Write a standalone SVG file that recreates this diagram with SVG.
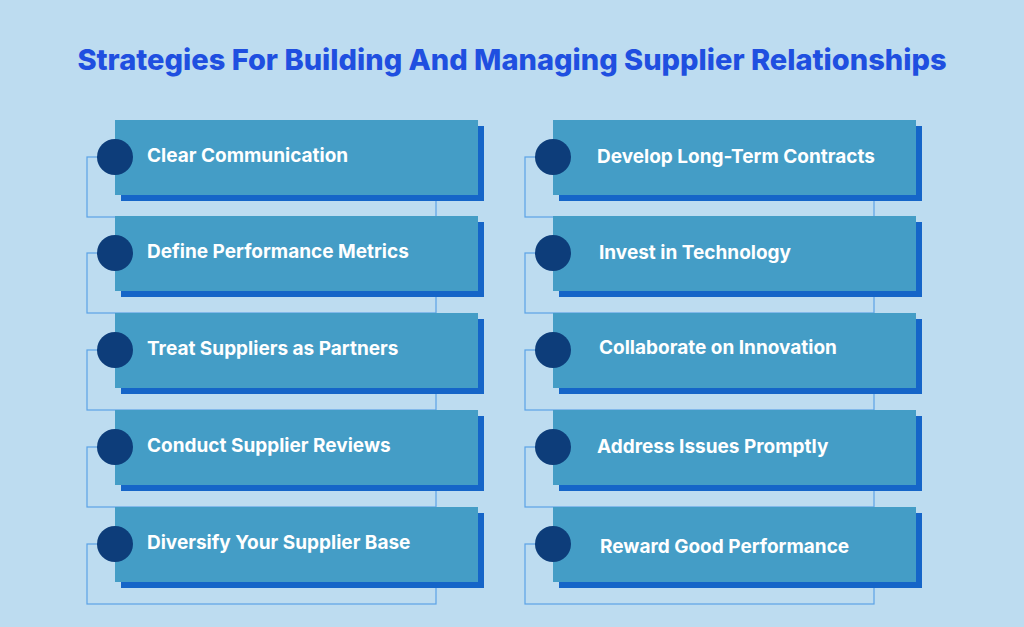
<svg xmlns="http://www.w3.org/2000/svg" width="1024" height="627" viewBox="0 0 1024 627">
<style>
.bg{fill:#bddcf0}
.ol{fill:none;stroke:#5aa2e6;stroke-width:1.2}
.sh{fill:#1565c8}
.bx{fill:#449dc6}
.dot{fill:#0d3d7a}
.t{font-family:Inter,"Liberation Sans",sans-serif;font-weight:700;font-size:19px;fill:#fff}
.title{font-family:Inter,"Liberation Sans",sans-serif;font-weight:800;font-size:29px;fill:#1f4fe0}
</style>
<defs>
<g id="card">
<rect class="ol" x="-28" y="37" width="349" height="60"/>
<rect class="sh" x="6" y="6" width="363" height="75"/>
<rect class="bx" x="0" y="0" width="363" height="75"/>
<circle class="dot" cx="0" cy="37" r="18"/>
</g>
</defs>
<rect class="bg" width="1024" height="627"/>
<text class="title" x="512" y="70" text-anchor="middle">Strategies For Building And Managing Supplier Relationships</text>
<g id="connectors"></g>
<g id="n1"><use href="#card" x="115" y="120"/><text class="t" x="147" y="162">Clear Communication</text></g>
<g id="n2"><use href="#card" x="115" y="216"/><text class="t" x="147" y="258">Define Performance Metrics</text></g>
<g id="n3"><use href="#card" x="115" y="313"/><text class="t" x="147" y="355">Treat Suppliers as Partners</text></g>
<g id="n4"><use href="#card" x="115" y="410"/><text class="t" x="147" y="452">Conduct  Supplier Reviews</text></g>
<g id="n5"><use href="#card" x="115" y="507"/><text class="t" x="147" y="549">Diversify Your Supplier Base</text></g>
<g id="n6"><use href="#card" x="553" y="120"/><text class="t" x="597" y="163">Develop Long-Term Contracts</text></g>
<g id="n7"><use href="#card" x="553" y="216"/><text class="t" x="599" y="259">Invest in Technology</text></g>
<g id="n8"><use href="#card" x="553" y="313"/><text class="t" x="599" y="354">Collaborate on Innovation</text></g>
<g id="n9"><use href="#card" x="553" y="410"/><text class="t" x="597" y="453">Address Issues Promptly</text></g>
<g id="n10"><use href="#card" x="553" y="507"/><text class="t" x="600" y="553">Reward Good Performance</text></g>
</svg>
